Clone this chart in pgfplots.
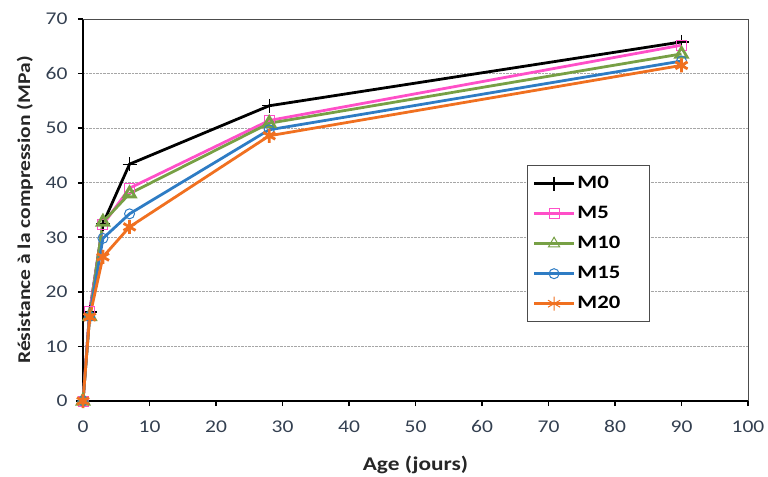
\documentclass[border=0pt]{standalone}
\usepackage{pgfplots}
\pgfplotsset{compat=1.18}
\usepackage{fontspec}
\setmainfont[FakeStretch=1.2]{Carlito}
\definecolor{cM0}{HTML}{000000}
\definecolor{cM5}{HTML}{FF4FC8}
\definecolor{cM10}{HTML}{77A045}
\definecolor{cM15}{HTML}{2E7CC4}
\definecolor{cM20}{HTML}{F07020}
\definecolor{tickc}{HTML}{333F50}
\begin{document}
\begin{tikzpicture}[x=1bp,y=1bp]
\useasboundingbox (-83bp,-76bp) rectangle (685bp,401bp);
\begin{axis}[
  at={(0,0)}, anchor=south west,
  scale only axis, width=665bp, height=382bp,
  xmin=0, xmax=100, ymin=0, ymax=70,
  xtick={0,10,...,100}, ytick={0,10,...,70},
  axis x line*=bottom, axis y line*=left,
  axis line style={line width=2.2pt, -},
  tick style={black, line width=1.8pt},
  tick align=outside, major tick length=5bp,
  ymajorgrids, grid style={densely dotted, gray!70, line width=0.8pt},
  /pgf/number format/assume math mode=true,
  tick label style={font=\fontsize{18}{20}\selectfont, text=tickc},
  xticklabel style={yshift=-11bp},
  yticklabel style={xshift=-7bp},
  xlabel={\textbf{Age (jours)}},
  ylabel={\textbf{Résistance à la compression (MPa)}},
  xlabel style={font=\fontsize{19.5}{21}\selectfont, text=black!85, yshift=-16bp},
  ylabel style={font=\fontsize{18}{20}\selectfont, text=black!85, yshift=6bp},
  legend style={at={(rel axis cs:0.668,0.617)}, anchor=north west,
    font=\bfseries\fontsize{19}{21}\selectfont, draw=black!70, line width=0.9pt,
    row sep=10bp, inner xsep=5bp, inner ysep=8bp,
    nodes={text height=13bp, text depth=3bp}},
  legend cell align=left,
  legend image code/.code={\draw[#1] (0bp,0bp) -- (40bp,0bp); \draw[#1, mark repeat=1, line width=1pt] plot coordinates {(20bp,0bp)};},
  every axis plot/.append style={line width=2.8pt, mark size=5bp, mark options={solid, line width=1pt, fill=none}},
  after end axis/.code={\draw[black!70, line width=0.8pt] (rel axis cs:0,1) -- (rel axis cs:1,1) -- (rel axis cs:1,0);},
  clip=false,
]
\addplot[color=cM0, mark=+, mark options={line width=1.2pt, mark size=7bp}] coordinates {(0,0) (1,16.3) (3,32.5) (7,43.4) (28,54.1) (90,65.8)};
\addlegendentry{M0}
\addplot[color=cM5, mark=square] coordinates {(0,0) (1,16.4) (3,32.3) (7,39.0) (28,51.4) (90,65.2)};
\addlegendentry{M5}
\addplot[color=cM10, mark=triangle, mark options={mark size=6.5bp}] coordinates {(0,0) (1,15.5) (3,32.8) (7,38.0) (28,50.9) (90,63.6)};
\addlegendentry{M10}
\addplot[color=cM15, mark=o] coordinates {(0,0) (1,15.5) (3,29.8) (7,34.3) (28,49.7) (90,62.3)};
\addlegendentry{M15}
\addplot[color=cM20, mark=asterisk, mark options={mark size=7bp}] coordinates {(0,0) (1,15.4) (3,26.4) (7,31.9) (28,48.6) (90,61.5)};
\addlegendentry{M20\hspace*{22bp}}
\end{axis}
\end{tikzpicture}
\end{document}
